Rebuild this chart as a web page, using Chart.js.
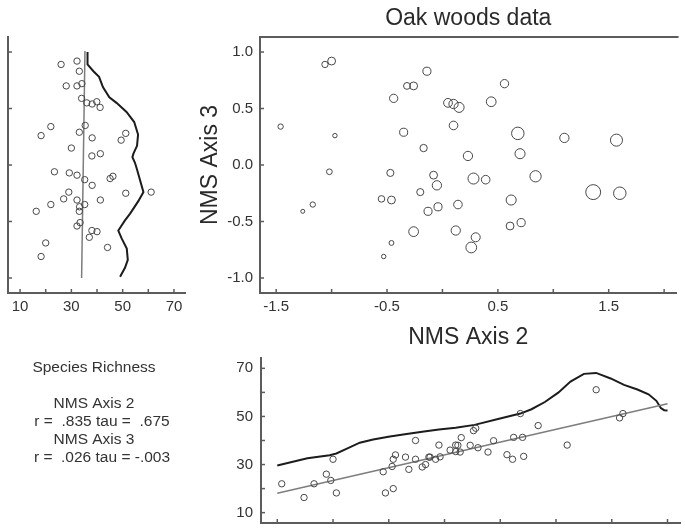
<!DOCTYPE html>
<html>
<head>
<meta charset="utf-8">
<title>Oak woods data</title>
<script src="https://cdn.jsdelivr.net/npm/chart.js@4.4.1/dist/chart.umd.min.js"></script>
<style>
  body { margin: 0; background: #fff; }
  #wrap { position: relative; width: 685px; height: 532px; overflow: hidden; background: #fff; }
  #wrap canvas { position: absolute; }
</style>
</head>
<body>
<div id="wrap">
  <canvas id="side" width="200" height="340" style="left:0;top:0"></canvas>
  <canvas id="main" width="495" height="360" style="left:190px;top:0"></canvas>
  <canvas id="lower" width="685" height="200" style="left:0;top:340px"></canvas>
</div>
<script>
// one entry per stand: NMS axis 2 score, NMS axis 3 score, species richness
const axis2 = [-1.46, -1.06, -1.00, -0.97, -1.02, -1.17, -1.26, -0.55, -0.46, -0.47,
  -0.46, -0.53, -0.44, -0.35, -0.32, -0.26, -0.14, -0.17, -0.08, -0.05,
  -0.20, -0.13, -0.04, -0.26, 0.05, 0.10, 0.15, 0.10, 0.14, 0.12,
  0.56, 0.44, 0.68, 0.70, 0.23, 1.10, 1.57, 0.28, 0.39, 0.84,
  1.36, 1.60, 0.62, 0.61, 0.71, 0.30, 0.26];
const axis3 = [0.34, 0.89, 0.92, 0.26, -0.06, -0.35, -0.41, -0.30, -0.31, -0.07,
  -0.69, -0.81, 0.59, 0.29, 0.70, 0.70, 0.83, 0.15, -0.09, -0.18,
  -0.24, -0.41, -0.37, -0.59, 0.55, 0.54, 0.51, 0.35, -0.35, -0.58,
  0.72, 0.56, 0.28, 0.10, 0.08, 0.24, 0.22, -0.12, -0.13, -0.10,
  -0.24, -0.25, -0.31, -0.54, -0.51, -0.64, -0.73];
const richness = [22.0, 26.0, 32.2, 18.2, 23.4, 22.0, 16.3, 27.0, 32.2, 29.2,
  20.0, 18.2, 34.0, 33.1, 28.0, 32.2, 33.1, 30.0, 32.2, 38.1,
  29.0, 33.1, 33.2, 40.0, 36.0, 38.1, 41.2, 35.4, 35.2, 38.0,
  34.1, 39.9, 51.2, 41.3, 38.0, 38.1, 49.4, 45.1, 35.2, 46.2,
  61.1, 51.2, 41.3, 32.2, 33.4, 37.0, 44.1];

// richness on axis 3: linear fit and smoothed curve
const sideFitRich = [35.3, 34.0];
const sideFitAxis3 = [1.01, -1.0];
const sideCurveRich = [36.3, 36.3, 38.6, 40.8, 42.3, 44.8, 47.6, 51.5, 54.5, 56.0, 55.6, 54.2, 53.8,
  54.8, 55.6, 58.1, 56.1, 52.9, 50.9, 48.3, 49.6, 51.6, 52.0, 50.9, 49.0];
const sideCurveAxis3 = [1.00, 0.89, 0.83, 0.78, 0.69, 0.60, 0.55, 0.47, 0.38, 0.27, 0.17, 0.10, 0.07,
  0.02, -0.04, -0.24, -0.32, -0.43, -0.49, -0.58, -0.65, -0.74, -0.84, -0.91, -0.99];

// richness on axis 2: linear fit and smoothed curve
const lowFitAxis2 = [-1.5, 2.0];
const lowFitRich = [18.1, 55.3];
const lowCurveAxis2 = [-1.5, -1.23, -1.03, -0.97, -0.88, -0.76, -0.64, -0.49, -0.34, -0.20, -0.05,
  0.10, 0.27, 0.48, 0.68, 0.78, 0.90, 1.02, 1.13, 1.25, 1.36, 1.49, 1.61, 1.73, 1.83, 1.90, 1.94, 1.97, 2.0];
const lowCurveRich = [29.6, 32.6, 33.9, 34.6, 36.5, 39.1, 40.4, 41.7, 42.7, 43.6, 44.6,
  45.3, 46.5, 48.9, 51.2, 53.0, 56.0, 59.9, 64.5, 67.7, 68.1, 65.8, 63.1, 61.2, 59.2, 56.5, 53.5, 52.6, 52.5];

// ticks
const axis2Ticks = [-1.5, -1.0, -0.5, 0.0, 0.5, 1.0, 1.5, 2.0];
const axis2Labels = ['-1.5', '', '-0.5', '', '0.5', '', '1.5', ''];
const axis3Ticks = [-1.0, -0.5, 0.0, 0.5, 1.0];
const axis3Labels = ['-1.0', '-0.5', '0.0', '0.5', '1.0'];
const richTicks = [10, 20, 30, 40, 50, 60, 70];
const richLabels = ['10', '', '30', '', '50', '', '70'];

const statLines = ['Species Richness', 'NMS Axis 2', 'r =  .835 tau =  .675', 'NMS Axis 3', 'r =  .026 tau = -.003'];

const FONT = "'Liberation Sans', Arial, sans-serif";
const AXIS = '#5c5c5c';
const INK = '#333333';
const MARK = '#474747';

Chart.defaults.font.family = FONT;
Chart.defaults.font.size = 15;
Chart.defaults.color = INK;

const pairs = (xs, ys) => xs.map((x, i) => ({ x, y: ys[i] }));
const setTicks = (vals) => (scale) => { scale.ticks = vals.map(v => ({ value: v })); };

// tick marks pointing into the plot
const innerTicks = {
  id: 'innerTicks',
  afterDraw(chart) {
    const ctx = chart.ctx;
    ctx.save();
    ctx.strokeStyle = AXIS;
    ctx.lineWidth = 1.5;
    Object.values(chart.scales).forEach(s => {
      s.ticks.forEach(t => {
        const p = s.getPixelForValue(t.value);
        ctx.beginPath();
        if (s.isHorizontal()) {
          ctx.moveTo(p, s.top);
          ctx.lineTo(p, s.top - 4);
        } else {
          ctx.moveTo(s.right, p);
          ctx.lineTo(s.right + 4, p);
        }
        ctx.stroke();
      });
    });
    ctx.restore();
  }
};

const topFrame = {
  id: 'topFrame',
  afterDraw(chart) {
    const { ctx, chartArea: a } = chart;
    ctx.save();
    ctx.strokeStyle = AXIS;
    ctx.lineWidth = 2;
    ctx.beginPath();
    ctx.moveTo(a.left - 1, a.top);
    ctx.lineTo(a.right + 2, a.top);
    ctx.stroke();
    ctx.restore();
  }
};

const statsText = {
  id: 'statsText',
  afterDraw(chart) {
    const ctx = chart.ctx;
    const at = [[94, 28], [94, 64], [102, 82], [94, 100], [102, 118]];
    ctx.save();
    ctx.font = '15.5px ' + FONT;
    ctx.fillStyle = INK;
    ctx.textAlign = 'center';
    ctx.textBaseline = 'middle';
    statLines.forEach((t, i) => ctx.fillText(t, at[i][0], at[i][1]));
    ctx.restore();
  }
};

const noGrid = { display: false, drawTicks: false };
const axisBorder = { color: AXIS, width: 2 };
const quiet = { legend: { display: false }, tooltip: { enabled: false } };

const dots = {
  pointRadius: 3.2,
  pointBorderWidth: 1,
  borderColor: MARK,
  backgroundColor: 'rgba(0,0,0,0)',
  showLine: false
};
const fitLine = { showLine: true, pointRadius: 0, borderColor: '#7d7d7d', borderWidth: 1.5 };
const curveLine = { showLine: true, pointRadius: 0, borderColor: '#1c1c1c', borderWidth: 2 };

// left panel: richness against axis 3
new Chart(document.getElementById('side'), {
  type: 'scatter',
  data: {
    datasets: [
      { ...dots, data: pairs(richness, axis3) },
      { ...fitLine, data: pairs(sideFitRich, sideFitAxis3) },
      { ...curveLine, data: pairs(sideCurveRich, sideCurveAxis3) }
    ]
  },
  options: {
    responsive: false,
    animation: false,
    layout: { padding: { top: 37, right: 15, left: 0, bottom: 0 } },
    plugins: quiet,
    scales: {
      x: {
        type: 'linear', min: 5.3, max: 74.3,
        afterBuildTicks: setTicks(richTicks),
        afterFit: s => { s.height = 47; },
        grid: noGrid, border: axisBorder,
        ticks: { padding: 5, maxRotation: 0, autoSkip: false, callback: (v, i) => richLabels[i] }
      },
      y: {
        type: 'linear', min: -1.133, max: 1.133,
        afterBuildTicks: setTicks(axis3Ticks),
        afterFit: s => { s.width = 8; },
        grid: noGrid, border: axisBorder,
        ticks: { display: false }
      }
    }
  },
  plugins: [innerTicks]
});

// main panel: ordination, bubble size = richness
new Chart(document.getElementById('main'), {
  type: 'bubble',
  data: {
    datasets: [{
      data: axis2.map((x, i) => ({ x, y: axis3[i], r: richness[i] * 0.122 })),
      borderColor: MARK,
      borderWidth: 1,
      backgroundColor: 'rgba(0,0,0,0)'
    }]
  },
  options: {
    responsive: false,
    animation: false,
    layout: { padding: { top: 0, right: 1, left: 0, bottom: 0 } },
    plugins: {
      ...quiet,
      title: {
        display: true, fullSize: false, text: 'Oak woods data', color: '#2a2a2a',
        font: { size: 23, weight: 'normal' }, padding: { top: 5.2, bottom: 4.2 }
      }
    },
    scales: {
      x: {
        type: 'linear', min: -1.646, max: 2.112,
        afterBuildTicks: setTicks(axis2Ticks),
        afterFit: s => { s.height = 67; },
        grid: noGrid, border: axisBorder,
        ticks: { padding: 5, maxRotation: 0, autoSkip: false, callback: (v, i) => axis2Labels[i] },
        title: {
          display: true, text: 'NMS Axis 2', color: '#2a2a2a',
          font: { size: 23 }, padding: { top: 0, bottom: 9 }
        }
      },
      y: {
        type: 'linear', min: -1.133, max: 1.133,
        afterBuildTicks: setTicks(axis3Ticks),
        afterFit: s => { s.width = 70; },
        grid: noGrid, border: axisBorder,
        ticks: { padding: 7, callback: (v, i) => axis3Labels[i] },
        title: {
          display: true, text: 'NMS Axis 3', color: '#2a2a2a',
          font: { size: 23 }, padding: { top: 7, bottom: 0 }
        }
      }
    }
  },
  plugins: [innerTicks, topFrame]
});

// lower panel: richness against axis 2
new Chart(document.getElementById('lower'), {
  type: 'scatter',
  data: {
    datasets: [
      { ...dots, data: pairs(axis2, richness) },
      { ...fitLine, data: pairs(lowFitAxis2, lowFitRich) },
      { ...curveLine, data: pairs(lowCurveAxis2, lowCurveRich) }
    ]
  },
  options: {
    responsive: false,
    animation: false,
    layout: { padding: { top: 18, right: 1, left: 0, bottom: 0 } },
    plugins: quiet,
    scales: {
      x: {
        type: 'linear', min: -1.646, max: 2.112,
        afterBuildTicks: setTicks(axis2Ticks),
        afterFit: s => { s.height = 6; },
        grid: noGrid, border: axisBorder,
        ticks: { display: false }
      },
      y: {
        type: 'linear', min: 5.7, max: 74.3,
        afterBuildTicks: setTicks(richTicks),
        afterFit: s => { s.width = 261; },
        grid: noGrid, border: axisBorder,
        ticks: { padding: 8, callback: (v, i) => richLabels[i] }
      }
    }
  },
  plugins: [innerTicks, statsText]
});
</script>
</body>
</html>
